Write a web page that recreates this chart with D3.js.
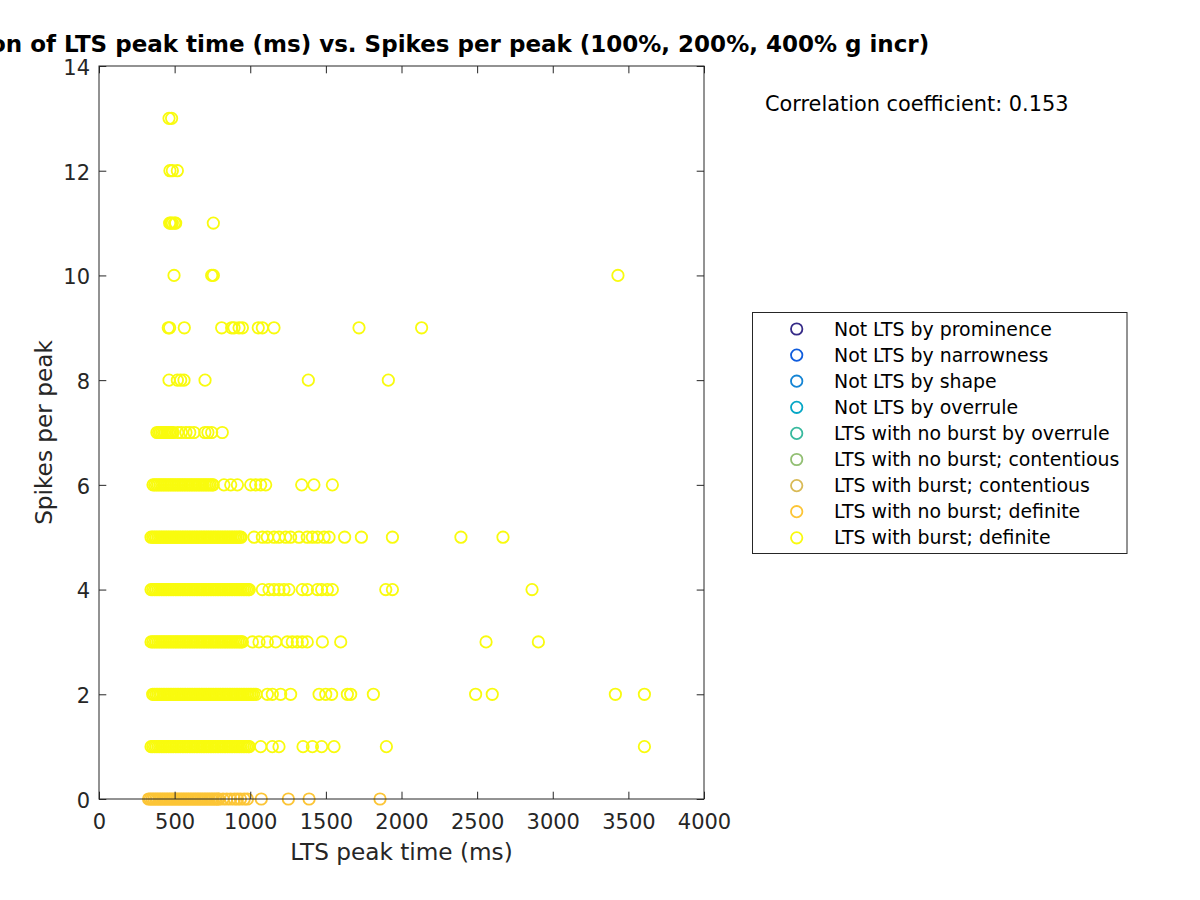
<!DOCTYPE html>
<html><head><meta charset="utf-8">
<script src="https://cdn.jsdelivr.net/npm/d3@7"></script>
<style>body{margin:0;background:#fff} svg{display:block} text{font-family:"DejaVu Sans",sans-serif}</style>
</head><body><svg id="chart" width="1200" height="900"></svg>
<script>
// ---- data ----
const titleText = "Correlation of LTS peak time (ms) vs. Spikes per peak (100%, 200%, 400% g incr)";
const xLabel = "LTS peak time (ms)";
const yLabel = "Spikes per peak";
const corrText = "Correlation coefficient: 0.153";
const xTicks = [0, 500, 1000, 1500, 2000, 2500, 3000, 3500, 4000];
const yTicks = [0, 2, 4, 6, 8, 10, 12, 14];
const legendLabels = ["Not LTS by prominence", "Not LTS by narrowness", "Not LTS by shape", "Not LTS by overrule",
  "LTS with no burst by overrule", "LTS with no burst; contentious", "LTS with burst; contentious",
  "LTS with no burst; definite", "LTS with burst; definite"];
const legendColors = ["#352A87", "#0F5CDD", "#1484D4", "#06A7C6", "#38B99E", "#92BF73", "#D9BA56", "#FCC536", "#F9FB0E"];

// LTS with no burst; definite (spikes per peak = 0)
const noBurstTimes0 = [328,339,351,362,374,385,397,408,420,431,443,454,466,477,489,500,512,523,535,546,558,569,581,592,604,615,627,638,650,661,673,684,696,707,719,730,742,753,765,776,788,793,820,845,870,895,915,935,960,981,1073,1252,1389,1858];

// LTS with burst; definite, peak times (ms) by spikes per peak
const burstTimes1 = [344,355,367,378,390,401,413,424,436,447,459,470,482,493,505,516,528,539,551,562,574,585,597,608,620,631,643,654,666,677,689,700,712,723,735,746,758,769,781,792,804,815,827,838,850,861,873,884,896,907,919,930,941,953,964,976,987,994,1069,1146,1190,1349,1411,1472,1554,1900,3606];
const burstTimes2 = [355,366,378,389,401,412,424,435,447,458,470,481,493,504,516,527,539,550,562,573,585,596,608,619,631,642,654,665,677,688,700,711,723,734,746,757,769,780,792,803,815,826,838,849,861,872,884,895,907,918,930,941,953,964,976,987,999,1010,1022,1038,1113,1146,1201,1267,1455,1499,1538,1642,1664,1814,2490,2600,3414,3606];
const burstTimes3 = [344,355,367,378,390,401,413,424,436,447,459,470,482,493,505,516,528,539,551,562,574,585,597,608,620,631,643,654,666,677,689,700,712,723,735,746,758,769,781,792,804,815,827,838,850,861,873,884,896,907,919,930,941,948,1014,1058,1113,1168,1245,1278,1311,1344,1377,1477,1598,2559,2905];
const burstTimes4 = [344,355,367,378,390,401,413,424,436,447,459,470,482,493,505,516,528,539,551,562,574,585,597,608,620,631,643,654,666,677,689,700,712,723,735,746,758,769,781,792,804,815,827,838,850,861,873,884,896,907,919,930,941,953,964,976,987,994,1080,1124,1157,1190,1223,1256,1344,1378,1444,1472,1510,1543,1896,1940,2863];
const burstTimes5 = [344,355,367,378,390,401,413,424,436,447,459,470,482,493,505,516,528,539,551,562,574,585,597,608,620,631,643,654,666,677,689,700,712,723,735,746,758,769,781,792,804,815,827,838,850,861,873,884,896,907,919,930,939,1025,1080,1113,1157,1190,1234,1267,1322,1377,1411,1444,1488,1521,1624,1735,1940,2393,2671];
const burstTimes6 = [357,368,380,391,403,414,426,437,449,460,472,483,495,506,518,529,541,552,564,575,587,598,610,621,633,644,656,667,679,690,702,713,725,736,748,755,826,871,915,1003,1036,1069,1102,1340,1421,1543];
const burstTimes7 = [383,394,405,416,427,438,449,460,471,482,490,520,545,575,600,628,700,720,745,815];
const burstTimes8 = [463,518,540,562,701,1384,1913];
const burstTimes9 = [458,467,564,811,877,893,926,948,1053,1080,1157,1719,2133];
const burstTimes10 = [496,745,756,3431];
const burstTimes11 = [467,475,485,500,507,756];
const burstTimes12 = [469,485,518];
const burstTimes13 = [463,480];

// ---- build ----
const svg = d3.select('#chart');
const L = 99, R = 704, T = 66, B = 799;
const x = d3.scaleLinear().domain([0, 4000]).range([L, R]);
const y = d3.scaleLinear().domain([0, 14]).range([B, T]);
const axisColor = "#262626";
const tickLen = 7.3;

const noBurstPts = noBurstTimes0.map(t => ({t, s: 0}));
const burstSeries = [burstTimes1, burstTimes2, burstTimes3, burstTimes4, burstTimes5, burstTimes6, burstTimes7,
  burstTimes8, burstTimes9, burstTimes10, burstTimes11, burstTimes12, burstTimes13];
const burstPts = [];
burstSeries.forEach((arr, i) => arr.forEach(t => burstPts.push({t, s: i + 1})));

svg.append("rect").attr("x", 0).attr("y", 0).attr("width", 1200).attr("height", 900).attr("fill", "#fff");
svg.append("rect").attr("x", L).attr("y", T).attr("width", R - L).attr("height", B - T).attr("fill", "#fff");

// points
const gPts = svg.append("g");
[[noBurstPts, legendColors[7]], [burstPts, legendColors[8]]].forEach(([pts, col]) => {
  gPts.append("g").selectAll("circle").data(pts).join("circle")
    .attr("cx", d => x(d.t)).attr("cy", d => y(d.s)).attr("r", 5.7)
    .attr("fill", "none").attr("stroke", col).attr("stroke-width", 1.8);
});

// axes
function styleAxis(g) {
  g.select(".domain").remove();
  g.selectAll(".tick line").attr("stroke", axisColor);
  g.selectAll(".tick text").attr("fill", axisColor).style("font-size", "21px").style("font-family", "'DejaVu Sans', sans-serif");
}
svg.append("g").attr("transform", `translate(0,${B})`)
  .call(d3.axisBottom(x).tickValues(xTicks).tickSizeInner(-tickLen).tickSizeOuter(0).tickPadding(15).tickFormat(d3.format("d")))
  .call(styleAxis);
svg.append("g").attr("transform", `translate(0,${T})`)
  .call(d3.axisTop(x).tickValues(xTicks).tickSizeInner(-tickLen).tickSizeOuter(0).tickFormat(""))
  .call(styleAxis);
svg.append("g").attr("transform", `translate(${L},0)`)
  .call(d3.axisLeft(y).tickValues(yTicks).tickSizeInner(-tickLen).tickSizeOuter(0).tickPadding(9).tickFormat(d3.format("d")))
  .call(styleAxis)
  .call(g => g.selectAll(".tick text").attr("dy", "0.4em"));
svg.append("g").attr("transform", `translate(${R},0)`)
  .call(d3.axisRight(y).tickValues(yTicks).tickSizeInner(-tickLen).tickSizeOuter(0).tickFormat(""))
  .call(styleAxis);
svg.append("rect").attr("x", L).attr("y", T).attr("width", R - L).attr("height", B - T)
  .attr("fill", "none").attr("stroke", axisColor).attr("stroke-width", 1);

// labels
svg.append("text").attr("x", (L + R) / 2).attr("y", 860).attr("text-anchor", "middle")
  .style("font-size", "23.2px").attr("fill", axisColor).text(xLabel);
svg.append("text").attr("transform", `translate(51.5,${(T + B) / 2}) rotate(-90)`).attr("text-anchor", "middle")
  .style("font-size", "23.2px").attr("fill", axisColor).text(yLabel);
svg.append("text").attr("x", 403).attr("y", 52).attr("text-anchor", "middle")
  .style("font-size", "23px").style("font-weight", "bold").attr("fill", "#000").text(titleText);
svg.append("text").attr("x", 765).attr("y", 111)
  .style("font-size", "20.85px").attr("fill", "#000").text(corrText);

// legend
const lg = svg.append("g");
lg.append("rect").attr("x", 752.5).attr("y", 312.5).attr("width", 374.5).attr("height", 241)
  .attr("fill", "#fff").attr("stroke", axisColor).attr("stroke-width", 1);
const rows = lg.selectAll("g.row").data(legendLabels).join("g").attr("class", "row")
  .attr("transform", (d, i) => `translate(0,${329 + i * 26.1})`);
rows.append("circle").attr("cx", 796.7).attr("cy", 0).attr("r", 5.7).attr("fill", "none")
  .attr("stroke", (d, i) => legendColors[i]).attr("stroke-width", 1.8);
rows.append("text").attr("x", 834).attr("y", 6.5).style("font-size", "18.9px").attr("fill", "#000").text(d => d);
</script></body></html>
